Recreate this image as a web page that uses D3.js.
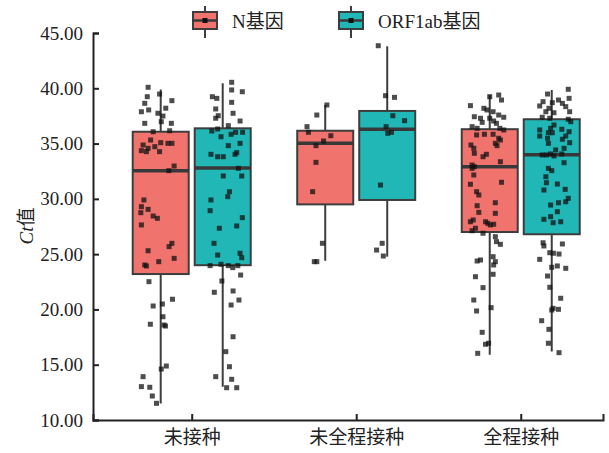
<!DOCTYPE html>
<html>
<head>
<meta charset="utf-8">
<script src="https://cdn.jsdelivr.net/npm/d3@7"></script>
<style>
body{margin:0;background:#fff;}
svg text{fill:#222;}
</style>
</head>
<body>
<div id="chart"></div>
<script>
//Ct值 boxplot, 3 vaccination groups x 2 genes
(function(){
"use strict";

var categories = ["未接种", "未全程接种", "全程接种"];
var seriesNames = ["N基因", "ORF1ab基因"];
var yTicks = [10, 15, 20, 25, 30, 35, 40, 45];

//box stats
var nMin = [11.5, 24.4, 15.9];
var nQ1 = [23.2, 29.5, 27.0];
var nMed = [32.55, 35.02, 32.9];
var nQ3 = [36.07, 36.16, 36.3];
var nMax = [39.9, 38.5, 39.4];

var orfMin = [13.0, 24.77, 16.2];
var orfQ1 = [24.0, 29.9, 26.8];
var orfMed = [32.8, 36.3, 34.0];
var orfQ3 = [36.38, 37.95, 37.2];
var orfMax = [40.45, 43.8, 39.85];

//points: [Ct, jitter as share of half box]
var nPts0 = [[40.09,-0.45],[39.48,-0.04],[39.24,-0.48],[38.88,0.40],[38.64,-0.57],[37.88,-0.69],[38.04,-0.43],[38.2,0.18],[37.74,-0.10],[37.49,0.08],[36.98,0.02],[36.83,-0.57],[36.83,0.38],[36.07,-0.27],[36.16,0.32],[35.32,-0.36],[34.87,-0.63],[34.57,-0.45],[34.27,-0.51],[34.72,-0.21],[35.08,0.0],[34.27,-0.04],[35.02,0.26],[35.02,0.40],[34.36,-0.69],[32.97,0.48],[32.55,0.29],[29.9,-0.60],[29.29,-0.69],[29.05,-0.45],[28.75,-0.71],[28.45,-0.27],[28.24,-0.12],[27.64,-0.69],[25.98,0.40],[25.68,0.30],[25.31,-0.45],[24.62,0.48],[24.32,-0.07],[24.02,-0.57],[23.93,-0.51],[22.51,-0.42],[20.92,0.42],[20.49,0.06],[20.31,-0.27],[19.34,0.08],[18.66,-0.37],[18.59,0.12],[18.5,0.17],[14.88,0.20],[14.61,0.02],[13.92,-0.63],[13.02,-0.69],[12.96,-0.39],[12.17,-0.30],[11.51,-0.15]];
var nPts1 = [[38.49,0.06],[37.58,-0.30],[36.53,-0.65],[36.02,-0.60],[35.71,0.20],[35.23,-0.06],[34.81,-0.33],[33.3,-0.33],[30.65,-0.45],[25.98,-0.10],[24.32,-0.39],[24.32,-0.30]];
var nPts2 = [[39.24,0.0],[39.39,0.32],[38.94,0.42],[38.43,-0.69],[38.19,-0.21],[38.04,-0.10],[37.88,0.12],[37.58,0.32],[37.38,0.50],[37.43,-0.55],[37.29,-0.33],[37.29,0.0],[36.92,-0.27],[37.04,0.14],[36.83,0.24],[36.53,-0.63],[36.38,-0.45],[36.38,0.36],[36.23,0.50],[35.78,-0.47],[35.84,-0.19],[35.84,0.12],[35.48,0.32],[34.87,-0.67],[35.02,0.20],[34.81,0.26],[35.32,0.38],[34.57,-0.57],[34.12,-0.55],[34.03,-0.12],[33.81,-0.24],[33.36,0.38],[33.06,-0.63],[32.91,-0.55],[32.76,-0.63],[32.16,-0.57],[31.5,0.42],[31.32,-0.69],[30.65,-0.47],[30.35,-0.39],[29.65,0.20],[29.38,-0.45],[28.78,-0.39],[28.69,0.20],[28.09,-0.59],[27.93,-0.69],[27.93,-0.15],[27.79,-0.07],[27.64,0.02],[27.70,0.14],[27.34,-0.51],[27.12,-0.63],[26.89,-0.24],[26.58,0.20],[26.13,0.24],[25.89,0.38],[24.38,-0.45],[24.47,-0.33],[24.77,0.12],[24.32,0.20],[24.02,0.14],[23.18,0.12],[22.96,-0.51],[21.97,-0.24],[20.85,-0.57],[19.86,-0.47],[20.16,0.05],[17.93,-0.27],[16.94,-0.04],[16.85,-0.15],[16.03,-0.43]];

var orfPts0 = [[40.54,0.32],[39.85,0.32],[39.69,0.70],[39.24,-0.37],[39.09,-0.21],[38.73,0.32],[38.13,-0.25],[37.74,0.37],[37.52,-0.16],[37.29,-0.25],[37.04,0.62],[36.62,0.20],[36.14,-0.39],[36.32,-0.18],[35.84,0.30],[36.02,0.46],[36.02,0.71],[35.62,-0.06],[35.02,0.62],[34.81,0.20],[34.03,-0.42],[33.81,-0.18],[33.81,0.02],[34.03,0.44],[34.18,0.50],[32.76,0.56],[32.07,0.02],[32.07,0.68],[30.65,0.24],[30.2,0.18],[29.9,-0.42],[28.93,-0.45],[28.3,0.70],[27.55,0.50],[27.34,-0.12],[25.98,-0.31],[24.92,-0.18],[25.08,0.62],[24.68,0.68],[23.96,-0.45],[24.08,-0.06],[23.96,0.20],[23.78,0.36],[23.96,0.54],[23.11,0.64],[22.57,-0.03],[21.55,-0.30],[21.67,0.37],[20.85,0.58],[20.4,0.30],[17.53,0.37],[16.18,0.11],[14.82,0.24],[13.92,-0.25],[13.68,0.32],[12.92,0.14],[12.92,0.50]];
var orfPts1 = [[43.85,-0.32],[39.33,-0.06],[39.18,0.26],[37.52,0.20],[37.07,0.62],[36.53,-0.04],[35.93,0.02],[36.02,0.15],[31.25,-0.24],[25.98,-0.18],[25.37,-0.38],[24.83,-0.14]];
var orfPts2 = [[39.91,0.59],[39.48,-0.15],[38.94,0.24],[39.09,0.62],[38.79,-0.31],[38.70,0.02],[38.64,0.38],[38.40,-0.43],[38.19,-0.10],[38.34,0.50],[37.88,-0.21],[37.79,0.08],[37.88,0.64],[37.38,-0.34],[37.29,-0.07],[37.20,0.59],[36.98,0.68],[36.68,0.08],[36.23,-0.43],[36.38,-0.04],[36.29,0.36],[35.98,-0.12],[35.98,0.02],[36.07,0.62],[35.68,-0.43],[35.48,-0.15],[35.68,0.50],[35.39,0.38],[35.08,0.64],[35.02,-0.12],[34.57,0.44],[34.42,0.14],[33.97,-0.34],[33.97,-0.19],[34.06,-0.04],[33.88,0.08],[34.06,0.36],[33.27,0.44],[32.76,-0.12],[32.55,0.0],[32.0,-0.21],[31.46,-0.19],[31.34,0.20],[30.80,-0.28],[30.86,0.48],[30.05,0.59],[29.74,0.50],[29.65,0.24],[29.44,-0.04],[28.84,0.20],[28.15,-0.28],[28.39,-0.04],[27.84,0.05],[27.93,0.32],[26.03,-0.31],[25.92,0.38],[25.74,-0.28],[25.13,-0.07],[25.08,0.06],[25.01,0.26],[24.53,-0.43],[23.81,0.0],[23.93,0.20],[23.72,0.50],[23.02,-0.15],[22.0,-0.07],[21.01,0.32],[20.1,0.05],[20.01,0.24],[19.95,0.0],[18.98,-0.36],[18.2,-0.10],[16.94,-0.12],[16.09,0.26]];

var colors = ["#F1736E", "#21B7B6"];
var width = 609, height = 453;
var margin = {top: 33, right: 6, bottom: 33, left: 93};
var font = '"Liberation Serif","Times New Roman","Noto Sans CJK SC",serif';
var dodge = 31;   //box center offset from group center
var boxW = 56;
var halfJ = 28;

var svg = d3.select('#chart')
	.append('svg')
		.attr('width', width)
		.attr('height', height)
		.style('font-family', font);

var x = d3.scaleLinear()
	.domain([-0.6, 2.5])
	.range([margin.left, width - margin.right]);
var y = d3.scaleLinear()
	.domain([10, 45])
	.range([height - margin.bottom, margin.top]);

//build table for drawing
var stats = [
	{min: nMin, q1: nQ1, med: nMed, q3: nQ3, max: nMax, pts: [nPts0, nPts1, nPts2]},
	{min: orfMin, q1: orfQ1, med: orfMed, q3: orfQ3, max: orfMax, pts: [orfPts0, orfPts1, orfPts2]}
];
var boxes = [];
stats.forEach(function(s, si){
	categories.forEach(function(c, ci){
		boxes.push({s: si, c: ci, min: s.min[ci], q1: s.q1[ci], med: s.med[ci], q3: s.q3[ci], max: s.max[ci], pts: s.pts[ci]});
	});
});
function cx(d){
	return x(d.c) + (d.s === 0 ? -dodge : dodge);
}

var g = svg.selectAll('g.box')
	.data(boxes)
	.enter()
	.append('g')
		.attr('class', 'box');

//whiskers
g.append('line')
	.attr('x1', cx).attr('x2', cx)
	.attr('y1', function(d){ return y(d.max); })
	.attr('y2', function(d){ return y(d.min); })
	.attr('stroke', '#3d3d3d')
	.attr('stroke-width', 2);

g.append('rect')
	.attr('x', function(d){ return cx(d) - boxW / 2; })
	.attr('width', boxW)
	.attr('y', function(d){ return y(d.q3); })
	.attr('height', function(d){ return y(d.q1) - y(d.q3); })
	.attr('fill', function(d){ return colors[d.s]; })
	.attr('stroke', '#3d3d3d')
	.attr('stroke-width', 2);

g.append('line')
	.attr('x1', function(d){ return cx(d) - boxW / 2; })
	.attr('x2', function(d){ return cx(d) + boxW / 2; })
	.attr('y1', function(d){ return y(d.med); })
	.attr('y2', function(d){ return y(d.med); })
	.attr('stroke', '#383838')
	.attr('stroke-width', 3.5);

//jittered points
g.each(function(d){
	d3.select(this).selectAll('rect.pt')
		.data(d.pts)
		.enter()
		.append('rect')
			.attr('class', 'pt')
			.attr('x', function(p){ return cx(d) + p[1] * halfJ - 2.5; })
			.attr('y', function(p){ return y(p[0]) - 2.5; })
			.attr('width', 5)
			.attr('height', 5)
			.attr('fill', '#111')
			.attr('fill-opacity', 0.75);
});

//axes
var xAxis = d3.axisBottom(x)
	.tickValues([0, 1, 2])
	.tickFormat(function(i){ return categories[i]; })
	.tickSizeInner(-6)
	.tickSizeOuter(-6)
	.tickPadding(11);
var yAxis = d3.axisLeft(y)
	.tickValues(yTicks)
	.tickFormat(d3.format('.2f'))
	.tickSizeInner(-6)
	.tickSizeOuter(-6)
	.tickPadding(10);

var gx = svg.append('g')
	.attr('transform', 'translate(0,' + y(10) + ')')
	.call(xAxis);
var gy = svg.append('g')
	.attr('transform', 'translate(' + margin.left + ',0)')
	.call(yAxis);
[gx, gy].forEach(function(a){
	a.attr('font-family', font).attr('font-size', 19);
	a.selectAll('path, line').attr('stroke', '#222').attr('stroke-width', 2);
	a.selectAll('text').attr('fill', '#222');
});

//y label, Ct in italics
var yl = svg.append('text')
	.attr('transform', 'translate(33,226) rotate(-90)')
	.attr('text-anchor', 'middle')
	.attr('font-size', 19);
yl.append('tspan').attr('font-style', 'italic').text('Ct');
yl.append('tspan').text('值');

//legend
var legX = [205, 351];
var leg = svg.selectAll('g.leg')
	.data(seriesNames)
	.enter()
	.append('g')
		.attr('class', 'leg')
		.attr('transform', function(d, i){ return 'translate(' + legX[i] + ',0)'; });
leg.append('line')
	.attr('x1', 0).attr('x2', 0).attr('y1', 6).attr('y2', 38)
	.attr('stroke', '#3d3d3d').attr('stroke-width', 2);
leg.append('rect')
	.attr('x', -12).attr('y', 12).attr('width', 24).attr('height', 17)
	.attr('fill', function(d, i){ return colors[i]; })
	.attr('stroke', '#3d3d3d').attr('stroke-width', 2);
leg.append('line')
	.attr('x1', -12).attr('x2', 12).attr('y1', 20.5).attr('y2', 20.5)
	.attr('stroke', '#383838').attr('stroke-width', 2.5);
leg.append('rect')
	.attr('x', -2.5).attr('y', 18).attr('width', 5).attr('height', 5)
	.attr('fill', '#111');
leg.append('text')
	.attr('x', 27)
	.attr('y', 21)
	.attr('dy', '0.35em')
	.attr('font-size', 19)
	.text(function(d){ return d; });

})();
</script>
</body>
</html>
